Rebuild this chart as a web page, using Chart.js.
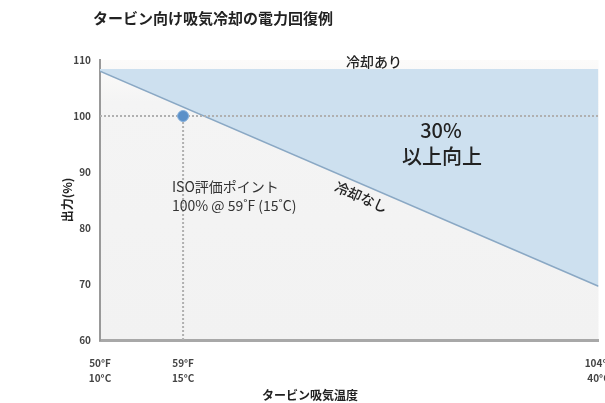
<!DOCTYPE html>
<html>
<head>
<meta charset="utf-8">
<script src="https://cdn.jsdelivr.net/npm/chart.js@4.4.1/dist/chart.umd.min.js"></script>
<style>
  body { margin: 0; background: #fff; }
  #wrap { width: 605px; height: 403px; position: relative; }
</style>
</head>
<body>
<div id="wrap"><canvas id="chart"></canvas></div>
<script>
// data
const tempF = [50, 59, 104];
const tempC = [10, 15, 40];
const withCooling = [108.4, 108.4];      // 冷却あり, flat
const withoutCooling = [108, 69.6];      // 冷却なし, 50F -> 104F
const isoPoint = [59, 100];
const yTicks = [60, 70, 80, 90, 100, 110];

const FONT = "'Noto Sans CJK JP', 'Noto Sans', sans-serif";

// background + text labels
const decor = {
  id: "decor",
  beforeDraw(chart) {
    const { ctx, chartArea: a } = chart;
    const g = ctx.createLinearGradient(0, a.top, 0, a.bottom);
    g.addColorStop(0, "#fcfbfa");
    g.addColorStop(0.15, "#f4f4f4");
    g.addColorStop(1, "#f2f2f2");
    ctx.save();
    ctx.fillStyle = g;
    ctx.fillRect(a.left, a.top, a.right - a.left, a.bottom - a.top);
    ctx.restore();
  },
  afterDraw(chart) {
    const { ctx, scales: { x, y } } = chart;
    ctx.save();
    ctx.fillStyle = "#222";
    ctx.textBaseline = "middle";

    ctx.font = "bold 15px " + FONT;
    ctx.textAlign = "left";
    ctx.fillText("タービン向け吸気冷却の電力回復例", 93, 18);

    ctx.font = "bold 12px " + FONT;
    ctx.textAlign = "center";
    ctx.fillText("タービン吸気温度", 310, 395);

    ctx.font = "500 14px " + FONT;
    ctx.fillText("冷却あり", 374, 62);

    ctx.font = "500 20px " + FONT;
    ctx.fillText("30%", 441, 130);
    ctx.fillText("以上向上", 442, 156);

    ctx.font = "14px " + FONT;
    ctx.textAlign = "left";
    ctx.fillStyle = "#333";
    ctx.fillText("ISO評価ポイント", 172, 187);
    ctx.fillText("100% @ 59˚F (15˚C)", 172, 206);

    // label under the no-cooling line, rotated along it
    const x0 = x.getPixelForValue(tempF[0]), y0 = y.getPixelForValue(withoutCooling[0]);
    const x1 = x.getPixelForValue(tempF[2]), y1 = y.getPixelForValue(withoutCooling[1]);
    const ang = Math.atan2(y1 - y0, x1 - x0);
    const px = 366;
    const py = y0 + (px - x0) * (y1 - y0) / (x1 - x0);
    ctx.translate(px, py);
    ctx.rotate(ang);
    ctx.font = "500 14px " + FONT;
    ctx.textAlign = "center";
    ctx.fillStyle = "#222";
    ctx.fillText("冷却なし", 0, 12);
    ctx.restore();
  }
};

new Chart(document.getElementById("chart"), {
  type: "line",
  data: {
    datasets: [
      {
        label: "冷却あり",
        data: [{ x: tempF[0], y: withCooling[0] }, { x: tempF[2], y: withCooling[1] }],
        borderWidth: 0,
        borderColor: "rgba(0,0,0,0)",
        backgroundColor: "#cde0ef",
        fill: "+1",
        pointRadius: 0,
        order: 5
      },
      {
        label: "冷却なし",
        data: [{ x: tempF[0], y: withoutCooling[0] }, { x: tempF[2], y: withoutCooling[1] }],
        borderWidth: 1.5,
        borderColor: "#8aa8c4",
        fill: false,
        pointRadius: 0,
        order: 4
      },
      {
        label: "100%",
        data: [{ x: tempF[0], y: isoPoint[1] }, { x: tempF[2], y: isoPoint[1] }],
        borderWidth: 2,
        borderColor: "#b0b0b0",
        borderDash: [2, 2],
        fill: false,
        pointRadius: 0,
        order: 3
      },
      {
        label: "59F",
        data: [{ x: isoPoint[0], y: yTicks[0] }, { x: isoPoint[0], y: isoPoint[1] }],
        borderWidth: 2,
        borderColor: "#b0b0b0",
        borderDash: [2, 2],
        fill: false,
        pointRadius: 0,
        order: 2
      },
      {
        label: "ISO",
        data: [{ x: isoPoint[0], y: isoPoint[1] }],
        showLine: false,
        pointRadius: 5.5,
        pointBackgroundColor: "#5b90c8",
        pointBorderColor: "#86b0dc",
        pointBorderWidth: 1,
        order: 1
      }
    ]
  },
  options: {
    responsive: true,
    maintainAspectRatio: false,
    animation: false,
    layout: { padding: { top: 60, left: 50, right: 5, bottom: 0 } },
    plugins: { legend: { display: false }, tooltip: { enabled: false }, title: { display: false } },
    scales: {
      x: {
        type: "linear",
        min: tempF[0],
        max: tempF[2],
        afterBuildTicks(scale) { scale.ticks = tempF.map(v => ({ value: v })); },
        afterFit(scale) {
          scale.height = 63;
          scale.paddingLeft = 0;
          scale.paddingRight = 0;
        },
        grid: { display: false, drawTicks: false },
        border: { display: true, color: "#a8a8a8", width: 3 },
        ticks: {
          padding: 16,
          maxRotation: 0,
          autoSkip: false,
          color: "#444",
          font: { family: FONT, size: 10, weight: "bold", lineHeight: 1.45 },
          callback: (v) => {
            const i = tempF.indexOf(v);
            return i < 0 ? "" : [tempF[i] + "°F", tempC[i] + "°C"];
          }
        },
        title: { display: false }
      },
      y: {
        min: yTicks[0],
        max: yTicks[yTicks.length - 1],
        afterBuildTicks(scale) { scale.ticks = yTicks.map(v => ({ value: v })); },
        afterFit(scale) { scale.width = 50; },
        grid: { display: false, drawTicks: false },
        border: { display: true, color: "#999", width: 2 },
        ticks: {
          padding: 9,
          color: "#444",
          font: { family: FONT, size: 10, weight: "bold" }
        },
        title: {
          display: true,
          text: "出力(%)",
          color: "#222",
          font: { family: FONT, size: 12, weight: "bold" },
          padding: { top: 10, bottom: 4 }
        }
      }
    }
  },
  plugins: [decor]
});
</script>
</body>
</html>
